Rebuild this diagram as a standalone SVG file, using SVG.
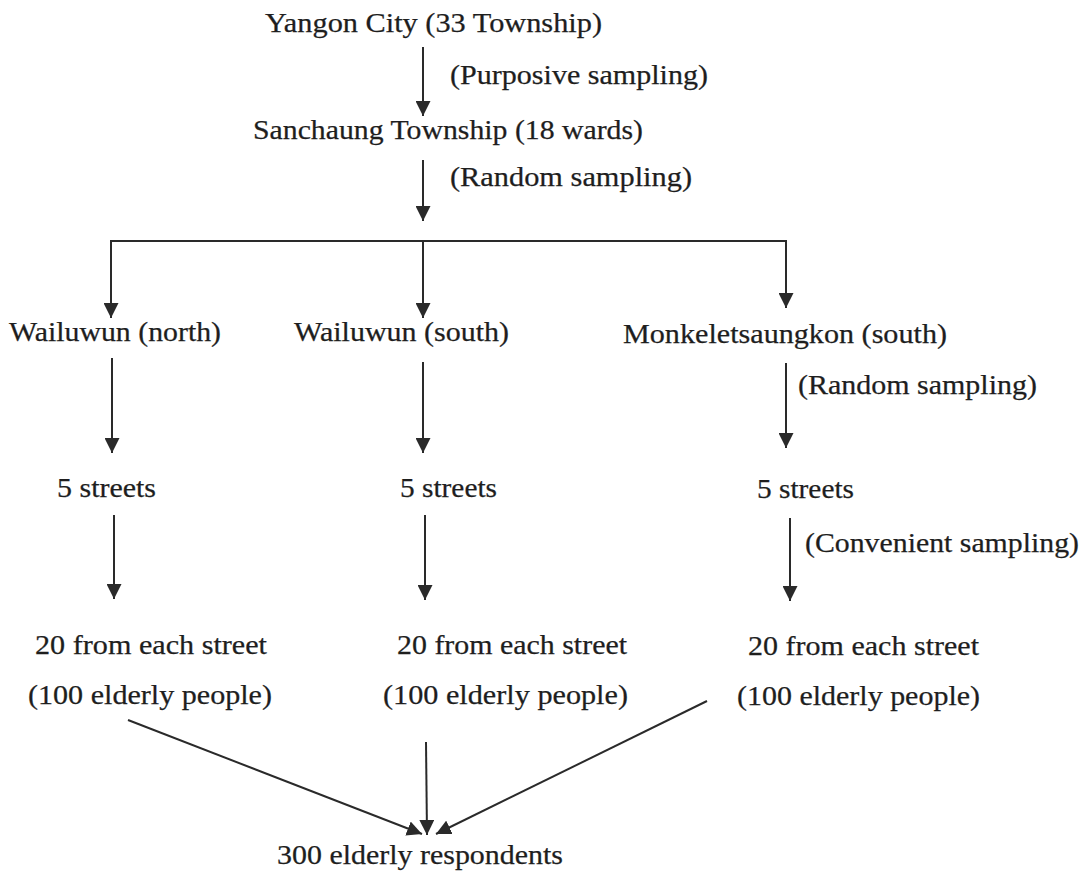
<svg xmlns="http://www.w3.org/2000/svg" width="1092" height="872" viewBox="0 0 1092 872">
<style>
text{font-family:"Liberation Serif","Times New Roman",serif;font-size:28px;fill:#1e1e1e;stroke:#1e1e1e;stroke-width:0.25px;}
.c line{stroke:#2a2a2a;stroke-width:2;fill:none;}
.a{marker-end:url(#ah);}
</style>
<defs>
<marker id="ah" markerUnits="userSpaceOnUse" markerWidth="15" markerHeight="15" refX="15" refY="7.5" orient="auto">
<path d="M0,0 L15,7.5 L0,15 z" fill="#2a2a2a"/>
</marker>
</defs>
<rect width="1092" height="872" fill="#ffffff"/>
<g class="c" id="connectors">
<line class="a" x1="423" y1="47" x2="423" y2="116"/>
<line class="a" x1="423" y1="160" x2="423" y2="221"/>
<line x1="110" y1="241" x2="787" y2="241"/>
<line class="a" x1="111" y1="241" x2="111" y2="318"/>
<line class="a" x1="423" y1="241" x2="423" y2="318"/>
<line class="a" x1="786" y1="241" x2="786" y2="308"/>
<line class="a" x1="112" y1="358" x2="112" y2="453"/>
<line class="a" x1="423" y1="362" x2="423" y2="453"/>
<line class="a" x1="786" y1="363" x2="786" y2="448"/>
<line class="a" x1="114" y1="515" x2="114" y2="599"/>
<line class="a" x1="425" y1="515" x2="425" y2="600"/>
<line class="a" x1="790" y1="518" x2="790" y2="601"/>
<line class="a" x1="128" y1="720" x2="422" y2="834"/>
<line class="a" x1="426" y1="742" x2="427" y2="835"/>
<line class="a" x1="707" y1="701" x2="436" y2="834"/>
</g>
<g id="yangon"><text x="265" y="32" textLength="337" lengthAdjust="spacingAndGlyphs">Yangon City (33 Township)</text></g>
<g id="lbl-purposive"><text x="450" y="84" textLength="258" lengthAdjust="spacingAndGlyphs">(Purposive sampling)</text></g>
<g id="sanchaung"><text x="253" y="139" textLength="390" lengthAdjust="spacingAndGlyphs">Sanchaung Township (18 wards)</text></g>
<g id="lbl-random1"><text x="450" y="186" textLength="242" lengthAdjust="spacingAndGlyphs">(Random sampling)</text></g>
<g id="wailuwun-north"><text x="9" y="341" textLength="212" lengthAdjust="spacingAndGlyphs">Wailuwun (north)</text></g>
<g id="wailuwun-south"><text x="294" y="341" textLength="215" lengthAdjust="spacingAndGlyphs">Wailuwun (south)</text></g>
<g id="monkeletsaungkon"><text x="623" y="343" textLength="324" lengthAdjust="spacingAndGlyphs">Monkeletsaungkon (south)</text></g>
<g id="lbl-random2"><text x="798" y="394" textLength="239" lengthAdjust="spacingAndGlyphs">(Random sampling)</text></g>
<g id="streets-1"><text x="57" y="497" textLength="99" lengthAdjust="spacingAndGlyphs">5 streets</text></g>
<g id="streets-2"><text x="400" y="497" textLength="97" lengthAdjust="spacingAndGlyphs">5 streets</text></g>
<g id="streets-3"><text x="757" y="498" textLength="97" lengthAdjust="spacingAndGlyphs">5 streets</text></g>
<g id="lbl-convenient"><text x="805" y="552" textLength="274" lengthAdjust="spacingAndGlyphs">(Convenient sampling)</text></g>
<g id="each-1">
<text x="35" y="654" textLength="232" lengthAdjust="spacingAndGlyphs">20 from each street</text>
<text x="28" y="704" textLength="244" lengthAdjust="spacingAndGlyphs">(100 elderly people)</text>
</g>
<g id="each-2">
<text x="397" y="654" textLength="230" lengthAdjust="spacingAndGlyphs">20 from each street</text>
<text x="383" y="704" textLength="245" lengthAdjust="spacingAndGlyphs">(100 elderly people)</text>
</g>
<g id="each-3">
<text x="748" y="655" textLength="231" lengthAdjust="spacingAndGlyphs">20 from each street</text>
<text x="737" y="705" textLength="243" lengthAdjust="spacingAndGlyphs">(100 elderly people)</text>
</g>
<g id="respondents"><text x="277" y="864" textLength="286" lengthAdjust="spacingAndGlyphs">300 elderly respondents</text></g>
</svg>
